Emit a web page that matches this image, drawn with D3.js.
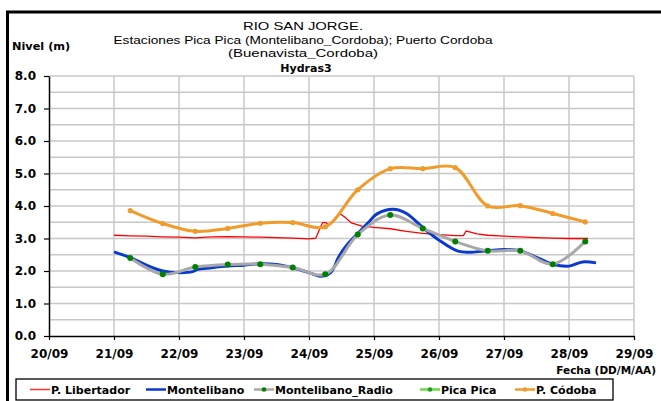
<!DOCTYPE html>
<html>
<head>
<meta charset="utf-8">
<script src="https://cdn.jsdelivr.net/npm/d3@7"></script>
<style>
  body { margin: 0; background: #fff; }
  svg { display: block; }
</style>
</head>
<body>
<script>
// P. Libertador (linea roja)
const libertadorTime = ["21/09 00:00","21/09 06:00","21/09 12:00","21/09 18:00","22/09 00:00","22/09 06:00","22/09 12:00","22/09 18:00",
  "23/09 00:00","23/09 06:00","23/09 12:00","23/09 18:00","24/09 00:00","24/09 02:30","24/09 05:00","24/09 06:15","24/09 07:20","24/09 08:10",
  "24/09 11:15","24/09 13:10","24/09 15:40","24/09 19:30","25/09 00:00","25/09 06:00","25/09 12:00","25/09 18:00","26/09 00:00","26/09 06:00",
  "26/09 09:00","26/09 10:00","26/09 12:00","26/09 14:00","26/09 18:00","27/09 00:00","27/09 06:00","27/09 12:00","27/09 18:00","28/09 00:00","28/09 07:00"];
const libertadorVal = [3.10,3.08,3.07,3.05,3.04,3.02,3.05,3.06,
  3.05,3.04,3.03,3.01,2.99,3.01,3.49,3.49,3.41,3.48,
  3.77,3.66,3.48,3.38,3.34,3.30,3.22,3.16,3.12,3.09,
  3.09,3.23,3.19,3.14,3.10,3.07,3.05,3.03,3.01,3.00,3.00];

// Montelibano (linea azul)
const montelibanoTime = ["21/09 00:00","21/09 06:00","21/09 12:00","21/09 18:00","22/09 00:00","22/09 05:00","22/09 07:00","22/09 12:00",
  "22/09 18:00","23/09 00:00","23/09 06:00","23/09 12:00","23/09 18:00","24/09 00:00","24/09 04:00","24/09 08:00","24/09 11:00","24/09 14:00",
  "24/09 18:00","24/09 22:00","25/09 01:00","25/09 07:00","25/09 12:00","25/09 18:00","26/09 00:00","26/09 07:00","26/09 12:00","26/09 18:00",
  "27/09 00:00","27/09 06:00","27/09 12:00","27/09 18:00","28/09 00:00","28/09 05:00","28/09 10:00"];
const montelibanoVal = [2.59,2.41,2.18,2.00,1.95,1.98,2.05,2.10,
  2.15,2.18,2.22,2.20,2.10,1.95,1.84,1.95,2.44,2.80,
  3.15,3.50,3.75,3.90,3.77,3.34,2.95,2.61,2.58,2.62,
  2.66,2.62,2.42,2.21,2.15,2.28,2.25];

// Montelibano_Radio y P. Cordoba (cada 12 horas)
const radioTime = ["21/09 06:00","21/09 18:00","22/09 06:00","22/09 18:00","23/09 06:00","23/09 18:00","24/09 06:00","24/09 18:00",
  "25/09 06:00","25/09 18:00","26/09 06:00","26/09 18:00","27/09 06:00","27/09 18:00","28/09 06:00"];
const radioVal = [2.40,1.90,2.12,2.20,2.21,2.11,1.90,3.12,3.72,3.31,2.91,2.62,2.62,2.21,2.91];
const picaTime = [];
const picaVal = [];
const cordobaTime = radioTime;
const cordobaVal = [3.86,3.46,3.22,3.31,3.47,3.49,3.36,4.50,5.15,5.15,5.18,4.00,4.01,3.77,3.51];

const yTicks = [0,1,2,3,4,5,6,7,8];
const titleLines = ["RIO SAN JORGE.", "Estaciones Pica Pica (Montelibano_Cordoba); Puerto Cordoba", "(Buenavista_Cordoba)"];
const legendNames = ["P. Libertador", "Montelibano", "Montelibano_Radio", "Pica Pica", "P. Códoba"];

const w = 661, h = 401;
const bold = "DejaVu Sans, sans-serif";
const parse = d3.timeParse("%d/%m %H:%M");
const zip = (t, v) => t.map((d, i) => ({ t: parse(d), v: v[i] }));

const svg = d3.select("body").append("svg").attr("width", w).attr("height", h)
  .style("font-family", bold);
svg.append("rect").attr("width", w).attr("height", h).attr("fill", "#fff");

// marco negro
svg.append("path").attr("d", "M7.5," + (h + 5) + "V12H" + (w + 5))
  .attr("fill", "none").attr("stroke", "#000").attr("stroke-width", 3);

const x = d3.scaleTime().domain([parse("20/09 00:00"), parse("29/09 00:00")]).range([49, 634]);
const y = d3.scaleLinear().domain([0, 8]).range([336, 76]);

// grilla
const grid = svg.append("g").attr("stroke", "#c8c8c8").attr("stroke-width", 1.5);
grid.selectAll(".hg").data(d3.range(0.5, 8.01, 0.5)).enter().append("line")
  .attr("x1", x.range()[0]).attr("x2", x.range()[1])
  .attr("y1", d => y(d)).attr("y2", d => y(d));
grid.selectAll(".vg").data(x.ticks(d3.timeDay.every(1)).slice(1)).enter().append("line")
  .attr("x1", d => x(d)).attr("x2", d => x(d))
  .attr("y1", y(0)).attr("y2", y(8));

// titulo
const tw = [120, 379, 150];
titleLines.forEach((s, i) => {
  svg.append("text").attr("x", 303).attr("y", 30 + i * 13.6)
    .attr("text-anchor", "middle").attr("font-size", 11.5)
    .style("font-family", "'Liberation Sans', Arial, sans-serif")
    .attr("textLength", tw[i]).attr("lengthAdjust", "spacingAndGlyphs")
    .text(s);
});
svg.append("text").attr("x", 306).attr("y", 71.5).attr("text-anchor", "middle")
  .attr("font-size", 11).attr("font-weight", "bold").text("Hydras3");

svg.append("text").attr("x", 12).attr("y", 50).attr("font-size", 11.3)
  .attr("font-weight", "bold").text("Nivel (m)");
svg.append("text").attr("x", 656).attr("y", 374).attr("text-anchor", "end")
  .attr("font-size", 10.5).attr("font-weight", "bold").text("Fecha (DD/M/AA)");

// ejes
const yAxis = d3.axisLeft(y).tickValues(yTicks).tickSize(5).tickSizeOuter(0).tickPadding(8).tickFormat(d3.format(".1f"));
const xAxis = d3.axisBottom(x).ticks(d3.timeDay.every(1)).tickSize(4).tickSizeOuter(0).tickPadding(9).tickFormat(d3.timeFormat("%d/%m"));

const gy = svg.append("g").attr("transform", "translate(" + x.range()[0] + ",0)").call(yAxis);
const gx = svg.append("g").attr("transform", "translate(0," + y(0) + ")").call(xAxis);
[gx, gy].forEach(g => {
  g.attr("font-family", bold);
  g.select(".domain").attr("stroke", "#000").attr("stroke-width", 1.5);
  g.selectAll(".tick line").attr("stroke", "#000").attr("stroke-width", 1.2);
  g.selectAll("text").attr("font-size", 12).attr("font-weight", "bold").attr("fill", "#000");
});

// series
const smooth = d3.line().x(d => x(d.t)).y(d => y(d.v)).curve(d3.curveCatmullRom.alpha(0.5));
const straight = d3.line().x(d => x(d.t)).y(d => y(d.v));

svg.append("path").datum(zip(libertadorTime, libertadorVal)).attr("d", straight)
  .attr("fill", "none").attr("stroke", "#ff0000").attr("stroke-width", 1.3);
svg.append("path").datum(zip(montelibanoTime, montelibanoVal)).attr("d", smooth)
  .attr("fill", "none").attr("stroke", "#0a3acc").attr("stroke-width", 3);

const radio = zip(radioTime, radioVal);
svg.append("path").datum(radio).attr("d", smooth)
  .attr("fill", "none").attr("stroke", "#a8a8a8").attr("stroke-width", 3);
svg.selectAll(".rdot").data(radio).enter().append("circle")
  .attr("cx", d => x(d.t)).attr("cy", d => y(d.v)).attr("r", 3).attr("fill", "#008000");

const pica = zip(picaTime, picaVal);
svg.append("path").datum(pica).attr("d", smooth)
  .attr("fill", "none").attr("stroke", "#66cc33").attr("stroke-width", 3);

const cordoba = zip(cordobaTime, cordobaVal);
svg.append("path").datum(cordoba).attr("d", smooth)
  .attr("fill", "none").attr("stroke", "#f09c2c").attr("stroke-width", 3);
svg.selectAll(".cdot").data(cordoba).enter().append("circle")
  .attr("cx", d => x(d.t)).attr("cy", d => y(d.v)).attr("r", 2.6).attr("fill", "#f09c2c");

// leyenda
svg.append("rect").attr("x", 16).attr("y", 379).attr("width", 597).attr("height", 21)
  .attr("fill", "#fff").attr("stroke", "#000").attr("stroke-width", 1.3);
const legColor = ["#ff3333", "#0a3acc", "#a8a8a8", "#66dd44", "#f09c2c"];
const legDot = [null, null, "#008000", "#229922", "#f09c2c"];
const legX = [30, 146, 254, 420, 515];
const legW = [1.5, 2.5, 2.5, 2.5, 2.5];
legendNames.forEach((name, i) => {
  const g = svg.append("g").attr("transform", "translate(" + legX[i] + ",389.5)");
  g.append("line").attr("x1", 0).attr("x2", 20).attr("stroke", legColor[i]).attr("stroke-width", legW[i]);
  if (legDot[i]) g.append("circle").attr("cx", 10).attr("r", 2.3).attr("fill", legDot[i]);
  g.append("text").attr("x", 21).attr("y", 4.5).attr("font-size", 11)
    .attr("font-weight", "bold").text(name);
});
</script>
</body>
</html>
